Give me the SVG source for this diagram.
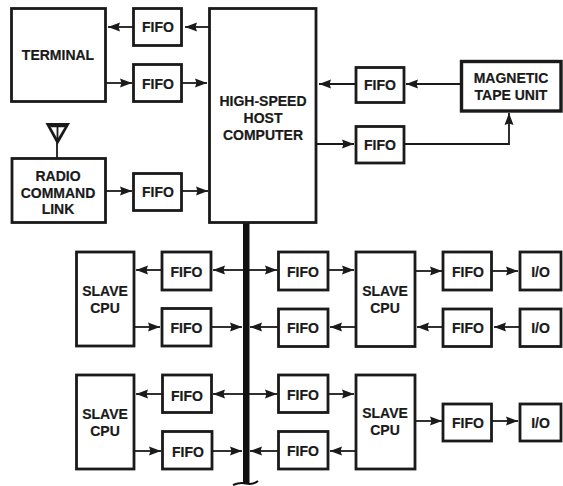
<svg xmlns="http://www.w3.org/2000/svg" width="563" height="486" viewBox="0 0 563 486">
<style>
.b{fill:#fff;stroke:#1a1a1a;stroke-width:2.800}
.t{font-family:"Liberation Sans",Arial,sans-serif;font-weight:700;font-size:14px;fill:#1a1a1a;text-anchor:middle;stroke:#1a1a1a;stroke-width:.2}
.c{fill:none;stroke:#1a1a1a;stroke-width:1.800;marker-end:url(#a)}
.d{fill:none;stroke:#1a1a1a;stroke-width:1.800}
</style>
<defs>
<marker id="a" markerUnits="userSpaceOnUse" markerWidth="14" markerHeight="10" viewBox="0 0 14 10" refX="13" refY="5" orient="auto"><path d="M1 .5L13 5L1 9.500L2.500 5Z" fill="#1a1a1a"/></marker>
</defs>
<rect width="563" height="486" fill="#fff"/>
<g id="connectors">
<path class="c" d="M133 27H108"/>
<path class="c" d="M209 27H185"/>
<path class="c" d="M105 83H132"/>
<path class="c" d="M182 83H207"/>
<path class="c" d="M106 191H132"/>
<path class="c" d="M182 191H208"/>
<path class="c" d="M356 84H319"/>
<path class="c" d="M461 84H406"/>
<path class="c" d="M316 144H354"/>
<path class="c" d="M404 144H509V113"/>
<path class="d" d="M57 158V140"/>
<path class="c" d="M162 270H136"/>
<path class="c" d="M243 270H213"/>
<path class="c" d="M249 270H277"/>
<path class="c" d="M328 270H354"/>
<path class="c" d="M134 327H160"/>
<path class="c" d="M211 327H242"/>
<path class="c" d="M278 327H250"/>
<path class="c" d="M356 327H330"/>
<path class="c" d="M162 394H136"/>
<path class="c" d="M243 394H213"/>
<path class="c" d="M249 394H277"/>
<path class="c" d="M328 394H354"/>
<path class="c" d="M134 451H161"/>
<path class="c" d="M211 451H242"/>
<path class="c" d="M278 451H250"/>
<path class="c" d="M356 451H330"/>
<path class="c" d="M415 271H442"/>
<path class="c" d="M492 271H518"/>
<path class="c" d="M443 327H417"/>
<path class="c" d="M520 327H494"/>
<path class="c" d="M415 421H442"/>
<path class="c" d="M492 421H518"/>
</g>
<g id="bus"><rect x="243" y="222" width="6.500" height="261" fill="#111"/><path d="M233 485Q240 482 246 483.500Q253 485 258 481" fill="none" stroke="#111" stroke-width="2"/></g>
<g id="antenna"><path d="M45.500 123H70L57.500 145Z" fill="#1a1a1a"/><path d="M50.500 126.500H65L57.500 139Z" fill="#fff"/><path d="M50.500 126.500H65" stroke="#1a1a1a" stroke-width="1.500"/><path d="M57.500 126V140" stroke="#1a1a1a" stroke-width="1.800"/></g>
<g id="terminal"><rect class="b" x="11.500" y="8.500" width="94" height="93"/><text class="t" x="58" y="60">TERMINAL</text></g>
<g id="radio"><rect class="b" x="12" y="158.500" width="93.500" height="64"/><text class="t"><tspan x="58" y="181">RADIO</tspan><tspan x="58" y="198">COMMAND</tspan><tspan x="58" y="214">LINK</tspan></text></g>
<g id="host"><rect class="b" x="209.500" y="8.500" width="106.500" height="214"/><text class="t"><tspan x="263" y="106">HIGH-SPEED</tspan><tspan x="263" y="123">HOST</tspan><tspan x="263" y="140">COMPUTER</tspan></text></g>
<g id="tape"><rect class="b" x="461.500" y="61.500" width="99.500" height="49.500" style="stroke-width:3.400"/><text class="t"><tspan x="511" y="83">MAGNETIC</tspan><tspan x="511" y="100">TAPE UNIT</tspan></text></g>
<g id="fifo1"><rect class="b" x="133.500" y="8.500" width="48" height="37"/><text class="t" x="158" y="32">FIFO</text></g>
<g id="fifo2"><rect class="b" x="133.500" y="64.500" width="48" height="37"/><text class="t" x="158" y="89">FIFO</text></g>
<g id="fifo3"><rect class="b" x="133.500" y="173.500" width="48" height="37"/><text class="t" x="158" y="197">FIFO</text></g>
<g id="fifo4"><rect class="b" x="356" y="67.500" width="48" height="35"/><text class="t" x="380" y="90">FIFO</text></g>
<g id="fifo5"><rect class="b" x="356" y="126.500" width="48" height="36.500"/><text class="t" x="380" y="150">FIFO</text></g>
<g id="slave1"><rect class="b" x="76.500" y="252" width="57.500" height="94"/><text class="t"><tspan x="105" y="296">SLAVE</tspan><tspan x="105" y="313">CPU</tspan></text></g>
<g id="slave2"><rect class="b" x="76.500" y="375" width="57.500" height="94"/><text class="t"><tspan x="105" y="419">SLAVE</tspan><tspan x="105" y="436">CPU</tspan></text></g>
<g id="slave3"><rect class="b" x="356" y="252" width="59" height="94.500"/><text class="t"><tspan x="385" y="296">SLAVE</tspan><tspan x="385" y="313">CPU</tspan></text></g>
<g id="slave4"><rect class="b" x="356" y="375" width="59" height="94"/><text class="t"><tspan x="385" y="418">SLAVE</tspan><tspan x="385" y="435">CPU</tspan></text></g>
<g id="fifo6"><rect class="b" x="162" y="252" width="49" height="38"/><text class="t" x="186.500" y="277">FIFO</text></g>
<g id="fifo7"><rect class="b" x="162" y="308.500" width="49" height="37.500"/><text class="t" x="186.500" y="333">FIFO</text></g>
<g id="fifo8"><rect class="b" x="162.500" y="375" width="49" height="37.500"/><text class="t" x="187" y="401">FIFO</text></g>
<g id="fifo9"><rect class="b" x="162.500" y="431.500" width="49.500" height="37.500"/><text class="t" x="188" y="457">FIFO</text></g>
<g id="fifo10"><rect class="b" x="278.500" y="252" width="49.500" height="38"/><text class="t" x="303" y="277">FIFO</text></g>
<g id="fifo11"><rect class="b" x="278.500" y="309" width="49.500" height="37.500"/><text class="t" x="303" y="333">FIFO</text></g>
<g id="fifo12"><rect class="b" x="278.500" y="375" width="49.500" height="37.500"/><text class="t" x="303" y="400">FIFO</text></g>
<g id="fifo13"><rect class="b" x="278.500" y="431.500" width="49.500" height="37.500"/><text class="t" x="303" y="456">FIFO</text></g>
<g id="fifo14"><rect class="b" x="443" y="252" width="48.500" height="38"/><text class="t" x="468" y="277">FIFO</text></g>
<g id="fifo15"><rect class="b" x="443" y="309" width="48.500" height="37.500"/><text class="t" x="468" y="333">FIFO</text></g>
<g id="fifo16"><rect class="b" x="443" y="404" width="48.500" height="37"/><text class="t" x="468" y="428">FIFO</text></g>
<g id="io1"><rect class="b" x="520" y="252" width="41" height="38"/><text class="t" x="540.500" y="277">I/O</text></g>
<g id="io2"><rect class="b" x="520" y="309" width="41" height="37.500"/><text class="t" x="540.500" y="333">I/O</text></g>
<g id="io3"><rect class="b" x="520" y="404" width="41" height="37"/><text class="t" x="540.500" y="428">I/O</text></g>
</svg>
